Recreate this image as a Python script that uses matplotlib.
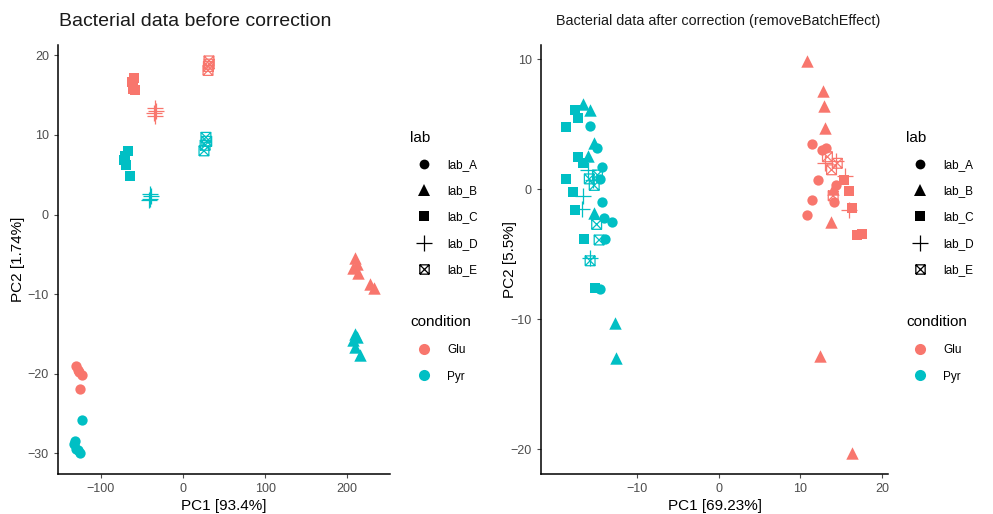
import numpy as np
import matplotlib
matplotlib.use('Agg')
import matplotlib.pyplot as plt
from matplotlib.path import Path
from matplotlib.lines import Line2D

plt.rcParams['font.family'] = ['Liberation Sans', 'DejaVu Sans']

# ---- data: PCA scores before correction ----
before_lab = (['lab_A'] * 11 + ['lab_B'] * 11 + ['lab_C'] * 10
              + ['lab_D'] * 8 + ['lab_E'] * 8)
before_cond = (['Glu'] * 5 + ['Pyr'] * 6 + ['Glu'] * 6 + ['Pyr'] * 5
               + ['Glu'] * 5 + ['Pyr'] * 5 + ['Glu'] * 4 + ['Pyr'] * 4
               + ['Glu'] * 4 + ['Pyr'] * 4)
before_pc1 = [-130.5, -128, -126.8, -123, -125.6,
              -123, -133, -131.7, -130, -125.6, -128,
              209.8, 212, 207, 213, 228, 232,
              209.8, 212, 207, 210, 216,
              -60, -62, -60.5, -58, -61,
              -67, -72, -69.5, -64.6, -70,
              -34, -34, -35, -33,
              -40, -40, -39, -41,
              31.7, 30.5, 31, 32,
              28, 27, 25.6, 29]
before_pc2 = [-19.0, -19.5, -19.8, -20.2, -21.9,
              -25.8, -28.8, -28.4, -29.4, -30.0, -29.6,
              -5.4, -6.2, -6.7, -7.4, -8.7, -9.2,
              -15.0, -15.4, -15.8, -16.7, -17.7,
              17.2, 16.6, 15.8, 15.6, 16.2,
              8.0, 6.8, 6.2, 4.9, 7.3,
              13.4, 12.4, 12.8, 13.0,
              2.6, 2.0, 2.3, 1.8,
              19.3, 18.1, 18.6, 18.9,
              9.7, 8.7, 8.0, 9.2]

# ---- data: PCA scores after removeBatchEffect ----
after_lab = (['lab_A'] * 17 + ['lab_B'] * 15 + ['lab_C'] * 15
             + ['lab_D'] * 9 + ['lab_E'] * 10)
after_cond = (['Pyr'] * 9 + ['Glu'] * 8 + ['Pyr'] * 7 + ['Glu'] * 8
              + ['Pyr'] * 10 + ['Glu'] * 5 + ['Pyr'] * 5 + ['Glu'] * 4
              + ['Pyr'] * 6 + ['Glu'] * 4)
after_pc1 = [-15.7, -14.8, -14.3, -14.5, -14.2, -14.0, -13.0, -13.9, -14.5,
             11.4, 13.1, 12.2, 11.4, 10.8, 14.1, 14.4, 12.6,
             -16.6, -15.7, -15.2, -16.0, -15.2, -12.7, -12.5,
             10.8, 12.7, 12.9, 13.0, 13.7, 12.4, 16.3, 14.0,
             -18.7, -17.5, -17.2, -17.2, -18.7, -17.8, -17.5, -16.4, -15.1, -16.6,
             16.3, 16.9, 17.5, 15.3, 15.9,
             -15.7, -16.7, -16.0, -15.4, -16.6,
             13.0, 14.3, 15.5, 15.9,
             -14.9, -14.6, -15.7, -15.2, -15.8, -14.8,
             13.3, 13.8, 14.5, 14.0]
after_pc2 = [4.9, 3.2, 1.7, 0.8, -1.0, -2.2, -2.5, -3.8, -7.7,
             3.5, 3.2, 0.7, -0.8, -2.0, -1.0, 0.3, 3.0,
             6.6, 6.1, 3.6, 2.6, -1.8, -10.3, -13.0,
             9.9, 7.6, 6.4, 4.7, -2.5, -12.8, -20.3, 0.0,
             4.8, 6.1, 5.5, 2.5, 0.8, -0.2, -1.6, -3.8, -7.6, 2.0,
             -1.4, -3.5, -3.4, 0.7, -0.1,
             -5.3, -1.5, 1.5, 0.7, -0.5,
             2.0, 2.2, 1.0, -1.6,
             -2.7, -3.9, -5.5, 0.3, 0.8, 1.1,
             2.5, 1.5, 2.0, -0.5]

labs = ['lab_A', 'lab_B', 'lab_C', 'lab_D', 'lab_E']
conditions = ['Glu', 'Pyr']

# ---- styles ----
cond_colors = {'Glu': '#F8766D', 'Pyr': '#00BFC4'}
# square with an X inside (ggplot shape 7)
box_x = Path([(-1, -1), (1, -1), (1, 1), (-1, 1), (-1, -1),
              (-1, -1), (1, 1), (-1, 1), (1, -1)],
             [Path.MOVETO, Path.LINETO, Path.LINETO, Path.LINETO, Path.LINETO,
              Path.MOVETO, Path.LINETO, Path.MOVETO, Path.LINETO])
lab_markers = {'lab_A': ('o', 55, 'filled'), 'lab_B': ('^', 80, 'filled'),
               'lab_C': ('s', 48, 'filled'), 'lab_D': ('+', 130, 'line'),
               'lab_E': (box_x, 50, 'open')}


def draw_panel(ax, pc1, pc2, lab, cond):
    pc1 = np.array(pc1)
    pc2 = np.array(pc2)
    lab = np.array(lab)
    cond = np.array(cond)
    for lb in labs:
        mk, size, kind = lab_markers[lb]
        for c in conditions:
            sel = (lab == lb) & (cond == c)
            if kind == 'filled':
                ax.scatter(pc1[sel], pc2[sel], marker=mk, s=size,
                           color=cond_colors[c], linewidths=0)
            elif kind == 'line':
                ax.scatter(pc1[sel], pc2[sel], marker=mk, s=size,
                           c=cond_colors[c], linewidths=0.9)
            else:
                ax.scatter(pc1[sel], pc2[sel], marker=mk, s=size,
                           facecolors='none', edgecolors=cond_colors[c],
                           linewidths=0.9)
    for side in ['top', 'right']:
        ax.spines[side].set_visible(False)
    for side in ['left', 'bottom']:
        ax.spines[side].set_linewidth(1.1)
    ax.tick_params(colors='#4D4D4D', labelsize=9, length=3, width=0.8)


fig = plt.figure(figsize=(9.93, 5.14), dpi=100)
W, H = 993, 514

ax1 = fig.add_axes([58 / W, 1 - 474 / H, 332 / W, 429 / H])
draw_panel(ax1, before_pc1, before_pc2, before_lab, before_cond)
ax1.set_xlim(-152, 252)
ax1.set_ylim(-32.6, 21.3)
ax1.set_xticks([-100, 0, 100, 200])
ax1.set_yticks([-30, -20, -10, 0, 10, 20])
ax1.set_xlabel('PC1 [93.4%]', fontsize=11, labelpad=3)
ax1.set_ylabel('PC2 [1.74%]', fontsize=11)
ax1.yaxis.set_label_coords(-0.1, 0.5)

ax2 = fig.add_axes([541 / W, 1 - 474 / H, 347 / W, 429 / H])
draw_panel(ax2, after_pc1, after_pc2, after_lab, after_cond)
ax2.set_xlim(-21.7, 20.7)
ax2.set_ylim(-21.9, 11.1)
ax2.set_xticks([-10, 0, 10, 20])
ax2.set_yticks([-20, -10, 0, 10])
ax2.set_xlabel('PC1 [69.23%]', fontsize=11, labelpad=3)
ax2.set_ylabel('PC2 [5.5%]', fontsize=11)
ax2.yaxis.set_label_coords(-0.068, 0.5)

fig.text(59 / W, 1 - 21 / H, 'Bacterial data before correction',
         fontsize=14, va='center', ha='left', color='#1A1A1A')
fig.text(556 / W, 1 - 21 / H, 'Bacterial data after correction (removeBatchEffect)',
         fontsize=10.4, va='center', ha='left', color='#1A1A1A')

# ---- legends ----
lab_handles = []
for lb in labs:
    mk, size, kind = lab_markers[lb]
    ms = np.sqrt(size) * 0.95
    if kind == 'filled':
        h = Line2D([], [], ls='', marker=mk, markersize=ms, color='black',
                   markeredgewidth=0)
    else:
        h = Line2D([], [], ls='', marker=mk, markersize=ms, color='black',
                   markerfacecolor='none', markeredgewidth=0.9)
    lab_handles.append(h)
cond_handles = [Line2D([], [], ls='', marker='o', markersize=8,
                       color=cond_colors[c], markeredgewidth=0)
                for c in conditions]

for x0 in [410, 906]:
    fig.legend(lab_handles, labs, title='lab', loc='upper left',
               bbox_to_anchor=(x0 / W, 1 - 131 / H), frameon=False,
               fontsize=8.5, title_fontsize=11, alignment='left',
               borderpad=0, borderaxespad=0, handlelength=2.4,
               handletextpad=0.75, labelspacing=1.2)
    fig.legend(cond_handles, conditions, title='condition', loc='upper left',
               bbox_to_anchor=(x0 / W, 1 - 315 / H), frameon=False,
               fontsize=8.5, title_fontsize=11, alignment='left',
               borderpad=0, borderaxespad=0, handlelength=2.4,
               handletextpad=0.75, labelspacing=1.25)

fig.savefig('out.png', dpi=100, facecolor='white')
